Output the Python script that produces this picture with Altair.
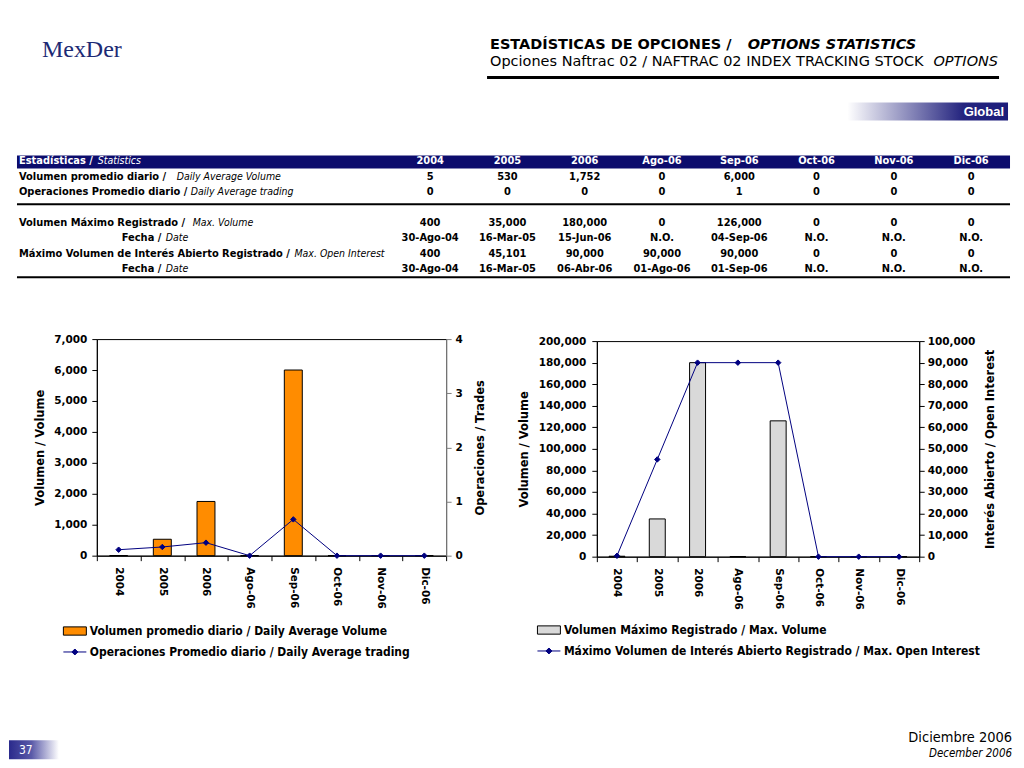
import altair as alt
import pandas as pd

# ------------------------------------------------------------------ data
periods = ['2004', '2005', '2006', 'Ago-06', 'Sep-06', 'Oct-06', 'Nov-06', 'Dic-06']
daily_avg_volume = [5, 530, 1752, 0, 6000, 0, 0, 0]
daily_avg_trading = [0.11, 0.16, 0.24, 0, 0.67, 0, 0, 0]
max_volume = [400, 35000, 180000, 0, 126000, 0, 0, 0]
max_open_interest = [400, 45101, 90000, 90000, 90000, 0, 0, 0]

tbl_volume = ['5', '530', '1,752', '0', '6,000', '0', '0', '0']
tbl_trading = ['0', '0', '0', '0', '1', '0', '0', '0']
tbl_max_volume = ['400', '35,000', '180,000', '0', '126,000', '0', '0', '0']
tbl_max_volume_date = ['30-Ago-04', '16-Mar-05', '15-Jun-06', 'N.O.', '04-Sep-06', 'N.O.', 'N.O.', 'N.O.']
tbl_max_oi = ['400', '45,101', '90,000', '90,000', '90,000', '0', '0', '0']
tbl_max_oi_date = ['30-Ago-04', '16-Mar-05', '06-Abr-06', '01-Ago-06', '01-Sep-06', 'N.O.', 'N.O.', 'N.O.']

row_keys = ['hdr', 'vol', 'trd', 'gap', 'mxv', 'mxvd', 'moi', 'moid']
row_label_es = ['Estadísticas /', 'Volumen promedio diario /', 'Operaciones Promedio diario /',
                'Volumen Máximo Registrado /', 'Fecha /',
                'Máximo Volumen de Interés Abierto Registrado /', 'Fecha /']
row_label_en = ['Statistics', 'Daily Average Volume', 'Daily Average trading',
                'Max. Volume', 'Date', 'Max. Open Interest', 'Date']
row_label_keys = ['hdr', 'vol', 'trd', 'mxv', 'mxvd', 'moi', 'moid']

legend_vol = 'Volumen promedio diario / Daily Average Volume'
legend_trd = 'Operaciones Promedio diario / Daily Average trading'
legend_mxv = 'Volumen Máximo Registrado / Max. Volume'
legend_moi = 'Máximo Volumen de Interés Abierto Registrado / Max. Open Interest'

# ------------------------------------------------------------------ style
SANS = 'DejaVu Sans'
COND = 'DejaVu Sans Condensed'
SERIF = "'Liberation Serif', 'DejaVu Serif', serif"
NAVY = '#000080'
BAND = '#0c0c6c'
TBL = 11
one = pd.DataFrame({'k': [0]})


def txt(s, x, y, size, origin, align='left', weight='normal', style='normal',
        color='black', font=SANS):
    ox, oy = origin
    return alt.Chart(one).mark_text(
        text=s, align=align, baseline='middle', fontSize=size, fontWeight=weight,
        fontStyle=style, color=color, font=font
    ).encode(x=alt.value(x - ox), y=alt.value(y - oy))


def box(x1, x2, y1, y2, origin, color):
    ox, oy = origin
    return alt.Chart(one).mark_rect(color=color).encode(
        x=alt.value(x1 - ox), x2=alt.value(x2 - ox), y=alt.value(y1 - oy), y2=alt.value(y2 - oy))


def hline(x1, x2, y, origin, width, color='black'):
    ox, oy = origin
    return alt.Chart(one).mark_rule(color=color, strokeWidth=width).encode(
        x=alt.value(x1 - ox), x2=alt.value(x2 - ox), y=alt.value(y - oy))


def spacer(w, h):
    return alt.Chart(one).mark_point(opacity=0).properties(width=w, height=h)


# ------------------------------------------------------------------ panel A: header + table
OA = (8, 8)
A = []
A.append(txt('MexDer', 81, 48, 24, OA, align='center', color='#1c2a74', font=SERIF))
A.append(txt('ESTADÍSTICAS DE OPCIONES /', 490, 43, 14.5, OA, weight='bold'))
A.append(txt('OPTIONS STATISTICS', 917, 43, 14.5, OA, align='right', weight='bold', style='italic'))
A.append(txt('Opciones Naftrac 02 / NAFTRAC 02 INDEX TRACKING STOCK', 490, 60, 14.5, OA))
A.append(txt('OPTIONS', 999, 60, 14.5, OA, align='right', style='italic'))
A.append(hline(487, 1000, 76, OA, 3))

grad = alt.Gradient(gradient='linear', x1=0, y1=0, x2=1, y2=0,
                    stops=[alt.GradientStop(color='#ffffff', offset=0),
                           alt.GradientStop(color='#24247f', offset=0.72),
                           alt.GradientStop(color='#1c1c7a', offset=1)])
A.append(box(848, 1009, 101, 119, OA, grad))
A.append(txt('Global', 1005, 110, 13, OA, align='right', weight='bold', color='white',
             font="'Liberation Sans', sans-serif"))

A.append(box(16, 1011, 154, 167, OA, BAND))
A.append(hline(16, 1011, 203, OA, 2))
A.append(hline(16, 1011, 276, OA, 2))

xs = alt.X('period:N', scale=alt.Scale(type='point', domain=periods, range=[430 - 8, 972 - 8], padding=0), axis=None)
ys = alt.Y('row:N', scale=alt.Scale(type='point', domain=row_keys, range=[160 - 8, 268 - 8], padding=0), axis=None)

recs = []
for key, vals in [('vol', tbl_volume), ('trd', tbl_trading), ('mxv', tbl_max_volume),
                  ('mxvd', tbl_max_volume_date), ('moi', tbl_max_oi), ('moid', tbl_max_oi_date)]:
    for p, v in zip(periods, vals):
        recs.append({'row': key, 'period': p, 'val': v})
tdf = pd.DataFrame(recs)
hdf = pd.DataFrame({'row': ['hdr'] * len(periods), 'period': periods})

A.append(alt.Chart(hdf).mark_text(font=COND, fontSize=TBL, fontWeight='bold', color='white',
                                  baseline='middle').encode(x=xs, y=ys, text='period:N'))
A.append(alt.Chart(tdf).mark_text(font=COND, fontSize=TBL, fontWeight='bold', color='black',
                                  baseline='middle').encode(x=xs, y=ys, text='val:N'))

# row label layout (start of Spanish part, start of English part)
label_start = {'hdr': 18, 'vol': 18, 'trd': 18, 'mxv': 18, 'mxvd': 121, 'moi': 18, 'moid': 121}
label_en_start = {'hdr': 97, 'vol': 176, 'trd': 190, 'mxv': 192, 'mxvd': 165, 'moi': 294, 'moid': 165}
for key, es, en in zip(row_label_keys, row_label_es, row_label_en):
    col = 'white' if key == 'hdr' else 'black'
    d = pd.DataFrame({'row': [key], 'es': [es], 'en': [en]})
    A.append(alt.Chart(d).mark_text(font=COND, fontSize=TBL, fontWeight='bold', color=col,
                                    align='left', baseline='middle')
             .encode(x=alt.value(label_start[key] - 8), y=ys, text='es:N'))
    A.append(alt.Chart(d).mark_text(font=COND, fontSize=TBL - 0.5, fontStyle='italic', color=col,
                                    align='left', baseline='middle')
             .encode(x=alt.value(label_en_start[key] - 8), y=ys, text='en:N'))

panel_a = alt.layer(*A).properties(width=1008, height=330)

# ------------------------------------------------------------------ footer (drawn relative to left plot)
OL = (96, 338)
footer = []
grad2 = alt.Gradient(gradient='linear', x1=0, y1=0, x2=1, y2=0,
                     stops=[alt.GradientStop(color='#2a2a8c', offset=0),
                            alt.GradientStop(color='#5a5aa8', offset=0.45),
                            alt.GradientStop(color='#ffffff', offset=1)])
footer.append(box(8, 58, 740, 759, OL, grad2))
footer.append(txt('37', 18, 750, 12, OL, color='white', font=COND))
footer.append(txt('Diciembre 2006', 1013, 738, 14.5, OL, align='right', font=COND))
footer.append(txt('December 2006', 1013, 754, 11.5, OL, align='right', style='italic', font=COND))

# ------------------------------------------------------------------ panel B: charts
LBL = dict(labelFont=SANS, labelFontSize=10.5, labelFontWeight='bold', labelColor='black')
TTL = dict(titleFont=SANS, titleFontSize=11.5, titleFontWeight='bold', titleColor='black')
LEG = dict(orient='none', title=None, padding=0, labelFont=COND, labelFontSize=12,
           labelFontWeight='bold', labelColor='black', labelLimit=700, labelOffset=3)
RECT_SYM = 'M-1,-0.36H1V0.36H-1Z'
LINE_SYM = 'M-1,0H1M-0.26,0L0,-0.26L0.26,0L0,0.26Z'


def x_enc():
    return alt.X('period:N', sort=periods, scale=alt.Scale(paddingInner=0, paddingOuter=0),
                 axis=alt.Axis(title=None, labelAngle=90, tickBand='extent', tickSize=5,
                               labelPadding=6, domainColor='black', tickColor='black',
                               grid=False, **LBL))


def dual_chart(df, bar_field, bar_color, bar_size, bar_series, y1_dom, y1_step, y1_title,
               line_field, line_series, y2_dom, y2_step, y2_title, w, h, pads, legpos, extra=()):
    left_axis = alt.Axis(orient='left', values=list(range(0, y1_dom + 1, y1_step)), format=',d',
                         title=y1_title, titlePadding=pads[0], tickSize=5, labelPadding=pads[1],
                         domainColor='black', tickColor='black', grid=False, **LBL, **TTL)
    right_axis = alt.Axis(orient='right', values=[v for v in range(0, int(y2_dom) + 1, y2_step)],
                          format=',d', title=y2_title, titleAngle=270, titlePadding=pads[2],
                          tickSize=5, labelPadding=pads[3], domainColor=pads[4],
                          tickColor=pads[4], grid=False, **LBL, **TTL)
    bars = alt.Chart(df).mark_bar(size=bar_size, stroke='black', strokeWidth=1).encode(
        x=x_enc(),
        y=alt.Y(f'{bar_field}:Q', scale=alt.Scale(domain=[0, y1_dom], nice=False), axis=left_axis),
        color=alt.Color('bar_series:N', scale=alt.Scale(domain=[bar_series], range=[bar_color]),
                        legend=alt.Legend(legendX=legpos[0], legendY=legpos[1], symbolType=RECT_SYM,
                                          symbolSize=529, symbolStrokeColor='black',
                                          symbolStrokeWidth=1, **LEG)))
    y2 = alt.Y(f'{line_field}:Q', scale=alt.Scale(domain=[0, y2_dom], nice=False), axis=right_axis)
    line = alt.Chart(df).mark_line(color=NAVY, strokeWidth=1).encode(x=x_enc(), y=y2)
    pts = alt.Chart(df).mark_point(shape='diamond', filled=True, size=30, opacity=1,
                                   stroke=NAVY, strokeWidth=1).encode(
        x=x_enc(), y=y2,
        color=alt.Color('line_series:N', scale=alt.Scale(domain=[line_series], range=[NAVY]),
                        legend=alt.Legend(legendX=legpos[0], legendY=legpos[2], symbolType=LINE_SYM,
                                          symbolSize=529, symbolStrokeColor=NAVY,
                                          symbolFillColor=NAVY, symbolStrokeWidth=1, **LEG)))
    return alt.layer(bars, alt.layer(line, pts), *extra).resolve_scale(
        y='independent', color='independent').properties(
        width=w, height=h, view=alt.ViewBackground(stroke='black', strokeWidth=1))


left_df = pd.DataFrame({'period': periods, 'volume': daily_avg_volume, 'trades': daily_avg_trading,
                        'bar_series': legend_vol, 'line_series': legend_trd})
right_df = pd.DataFrame({'period': periods, 'volume': max_volume, 'oi': max_open_interest,
                         'bar_series': legend_mxv, 'line_series': legend_moi})

left_chart = dual_chart(left_df, 'volume', '#ff8c00', 18, legend_vol, 7000, 1000, 'Volumen / Volume',
                        'trades', legend_trd, 4, 1, 'Operaciones / Trades', 350, 217,
                        (8, 5, 23, 4, '#808080'), (-34, 630 - 11.5 - 338, 651 - 11.5 - 338),
                        extra=footer)
right_chart = dual_chart(right_df, 'volume', '#d9d9d9', 16, legend_mxv, 200000, 20000, 'Volumen / Volume',
                         'oi', legend_moi, 100000, 10000, 'Interés Abierto / Open Interest', 323, 216,
                         (9, 6, 21, 3, 'black'), (-60, 629 - 11.5 - 340, 650 - 11.5 - 340))

panel_b = alt.hconcat(
    spacer(88, 218), left_chart, spacer(151, 218),
    alt.vconcat(spacer(323, 2), right_chart, spacing=0, bounds='flush'),
    spacing=0, bounds='flush')

chart = alt.vconcat(panel_a, panel_b, spacing=0, bounds='flush').properties(
    padding=0).configure_view(stroke='transparent')

chart.save('out.html', embed_options={'renderer': 'svg', 'actions': False})
